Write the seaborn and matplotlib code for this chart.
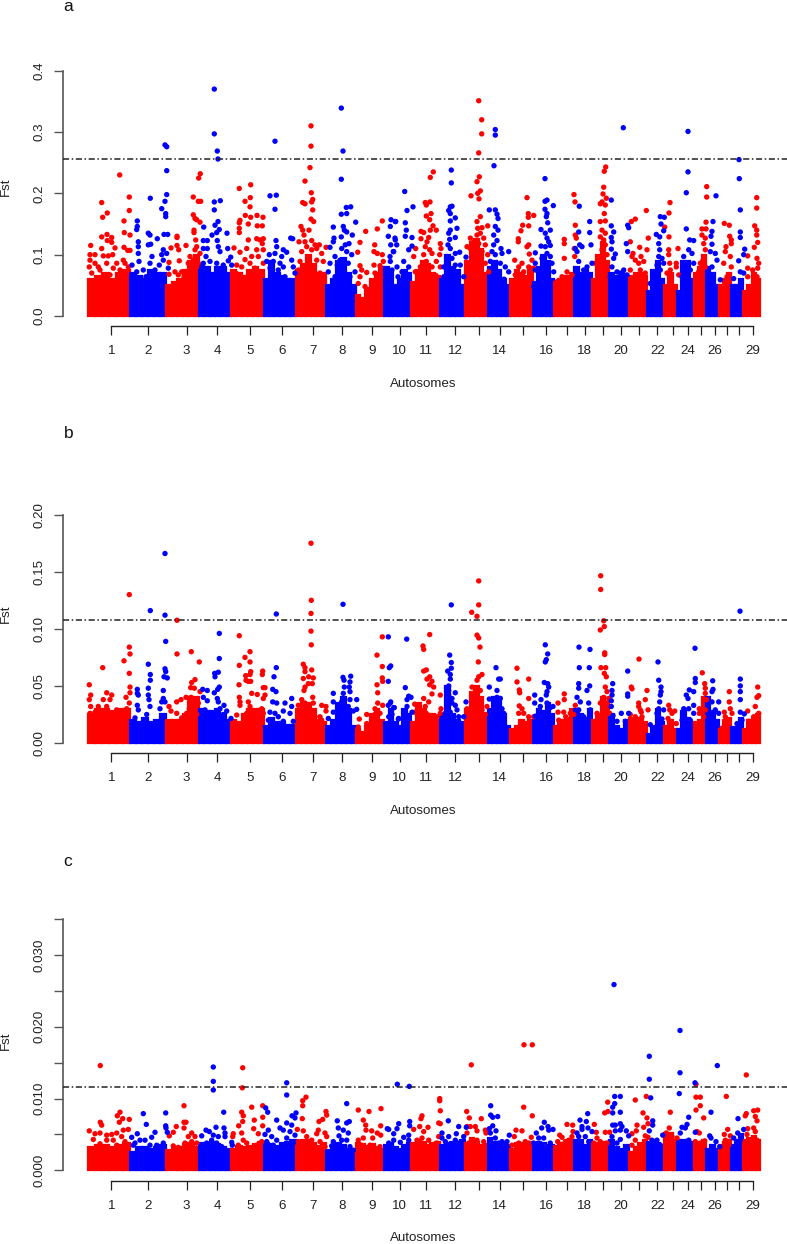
import matplotlib
matplotlib.use("Agg")
import matplotlib.pyplot as plt
import seaborn as sns
import pandas as pd

W, H = 787, 1244
RED, BLUE = "#ff0000", "#0000ff"

# chromosome boundaries along the genome axis (plot units), 1..29
chrom_edges = [88,130,166,199,231,263.5,295.5,325.5,355.5,384,411,440,465,488,510,533,554,574,592,609,
               629,647,664,677,694,706,719,731,743,760]
tick_pos = [111.3,148.3,186.7,217,250,281.7,312.7,342.3,371.7,399.7,426.3,455.3,478.7,499.7,523,546.3,
            566.7,584.7,603,621,639.3,657.3,672.7,687.7,701.3,714.7,727.3,739,752.7]
tick_labels = ["1","2","3","4","5","6","7","8","9","10","11","12","","14","","16","","18","","20","",
               "22","","24","","26","","","29"]

# top of the solid mass of SNPs, read left to right along each chromosome
mass_a = [[.06,.065,.07,.06,.07,.075],[.07,.065,.06,.075,.07,.07],[.05,.055,.06,.075,.09,.1],[.085,.08,.07,.08,.08,.07],
          [.075,.07,.065,.075,.08,.075],[.06,.09,.07,.065,.06,.06],[.075,.085,.1,.085,.07,.07],[.05,.06,.09,.095,.07,.05],
          [.035,.03,.045,.06,.07,.08],[.08,.07,.05,.06,.075,.07],[.055,.075,.09,.085,.07,.065],[.06,.1,.08,.075,.05],
          [.09,.12,.125,.11,.07],[.08,.09,.075,.06,.05],[.06,.075,.07,.065,.08],[.055,.08,.1,.09,.06],[.055,.06,.065,.065,.07],
          [.08,.07,.075,.07],[.06,.1,.12,.09],[.07,.065,.07,.065],[.065,.07,.07,.065],[.04,.075,.09,.06],[.05,.07,.05],
          [.04,.09,.09,.06],[.07,.08,.1],[.08,.07,.05],[.05,.06,.07],[.05,.05,.06],[.04,.05,.07,.06]]
mass_b = [[.025,.03,.03,.028,.03,.03],[.02,.018,.022,.018,.02,.025],[.02,.02,.02,.025,.04,.04],[.03,.028,.028,.03,.025,.02],
          [.02,.018,.025,.03,.03,.03],[.015,.022,.018,.018,.016,.016],[.03,.035,.035,.03,.02,.018],[.015,.02,.035,.04,.03,.015],
          [.012,.01,.015,.025,.03,.02],[.018,.03,.018,.015,.03,.025],[.018,.035,.03,.025,.025,.02],[.025,.05,.025,.02,.018],
          [.03,.045,.05,.04,.025],[.03,.04,.04,.025,.015],[.012,.015,.02,.018,.02],[.02,.03,.028,.035,.025],[.015,.02,.02,.022,.03],
          [.03,.025,.022,.03],[.02,.025,.04,.035],[.025,.015,.012,.02],[.022,.022,.022,.018],[.008,.015,.03,.018],[.015,.02,.012],
          [.012,.028,.022,.018],[.018,.02,.04],[.04,.028,.02],[.012,.02,.022],[.014,.014,.022],[.012,.02,.022,.025]]
mass_c = [[.0033,.0035,.0035,.0033,.0035,.0038],[.0025,.0032,.0033,.003,.0033,.0035],[.0028,.0032,.0033,.0036,.0038,.0033],
          [.0038,.0038,.004,.0036,.0032,.003],[.003,.0034,.0032,.0034,.0036,.004],[.0038,.0036,.0034,.0038,.004,.0042],
          [.0038,.0042,.0042,.0038,.0034,.0038],[.0028,.0035,.0038,.0035,.003,.003],[.0038,.0036,.0034,.0036,.0032,.003],
          [.0035,.0038,.0032,.003,.0035,.0038],[.0038,.0042,.004,.0035,.0038,.004],[.0035,.0038,.004,.0035,.0042],
          [.0038,.0045,.004,.0035,.0036],[.0045,.004,.0038,.0038,.0035],[.003,.0038,.0038,.0038,.004],[.0038,.004,.0038,.0035,.0035],
          [.0034,.0038,.0038,.0038,.0042],[.0042,.0042,.0035,.0042],[.0035,.0038,.004,.004],[.0042,.0032,.003,.0035],
          [.0025,.0032,.0038,.0042],[.004,.0042,.0038,.0035],[.0052,.0052,.0042],[.0042,.0042,.0042,.004],[.004,.0038,.0042],
          [.003,.0035,.003],[.0035,.004,.0042],[.0035,.0042,.005],[.0042,.0045,.0048,.0042]]

threshold_a, threshold_b, threshold_c = .256, .1075, .0116

a_red = [
(90.7,.115),(101.7,.185),(102.7,.161),(107.3,.168),(119.7,.23),(129.3,.194),(129.3,.172),(124,.155),(124.3,.136),(130,.132),(101.7,.129),(107,.133),(111.7,.128),(107.3,.123),(111.7,.12),(124,.112),(115,.111),(101.7,.11),(130,.107),(127.7,.107),(90,.1),(95,.1),(90,.091),(95,.086),(103.3,.098),(108.3,.098),(112.7,.1),(123.3,.091),(98.3,.08),(106.7,.086),(116.7,.086),(125,.086),(89.3,.08),(100,.075),(113.3,.078),(120,.075),(128.3,.08),(91.7,.07),(103.3,.064),(110,.067),(118.3,.064),(126.7,.07),
(177,.13),(177,.128),(171,.111),(177,.115),(186,.115),(178.7,.108),(169,.0875),(169,.068),(179.3,.09),(175,.072),(178.3,.067),(184,.064),(193.3,.194),(198.7,.225),(200.3,.232),(198.3,.187),(200.7,.187),(193.3,.165),(195,.159),(196.7,.157),(200,.153),(194,.14),(194,.136),(195.7,.124),(196.7,.113),(195,.108),(200,.102),(190,.097),(193.3,.091),(188.3,.086),(198.3,.086),(181.7,.072),(191.7,.08),(196.7,.08),
(239.3,.208),(250.7,.214),(245,.187),(250.3,.193),(250,.178),(245.3,.164),(250.7,.161),(240,.156),(239.3,.152),(248.3,.15),(257,.164),(263,.161),(257.3,.147),(262.3,.147),(239.3,.143),(239.3,.136),(234,.111),(248.3,.124),(256.7,.126),(263.3,.126),(260,.124),(262.3,.118),(246.7,.11),(240,.104),(256.7,.108),(263.3,.108),(245,.092),(251.7,.097),(258.3,.097),(236.7,.083),(250,.086),(263.3,.086),(241.7,.08),(255,.078),(236,.07),(248,.065),(260,.07),
(311,.31),(311,.277),(310,.242),(305,.22),(311.3,.201),(312.7,.19),(311.7,.186),(302.7,.185),(305,.183),(312.7,.173),(311,.158),(313.7,.154),(301,.146),(302.7,.14),(309,.14),(304,.132),(299,.121),(311.7,.123),(305,.121),(319.3,.116),(315,.116),(326,.112),(306.7,.113),(321.7,.102),(301.7,.105),(311.7,.108),(316.7,.11),(300,.089),(308.3,.094),(316.7,.091),(323.3,.089),(305,.08),(313.3,.08),(298.3,.075),(320,.07),(306,.07),
(382.3,.155),(365.7,.138),(377.3,.142),(360,.12),(374.7,.116),(374,.105),(377.3,.102),(357.7,.104),(382.3,.1),(383.3,.089),(360,.082),(374,.083),(380,.082),(361.7,.075),(366.7,.071),(375,.07),(358.3,.053),(365,.048),(371.7,.053),(380,.064),(360,.064),(376.7,.059),
(433.3,.235),(430.3,.226),(430,.186),(425.3,.185),(426.3,.181),(431,.167),(426.3,.163),(429.7,.157),(433,.147),(436.3,.14),(421,.138),(423.7,.136),(430.3,.14),(428.7,.128),(421,.126),(427,.121),(440.3,.118),(441,.11),(415.7,.11),(425.3,.113),(429.7,.108),(423.7,.1),(432,.102),(439.7,.1),(413.7,.097),(426.3,.089),(436.3,.089),(420.3,.08),(432,.08),(440.3,.08),(415.3,.072),(427,.07),(436,.066),
(478.7,.351),(481.7,.32),(481.7,.297),(478.7,.266),(479.3,.227),(477,.219),(480.3,.204),(477.7,.2),(471,.196),(479,.191),(480.3,.162),(477,.154),(482,.144),(477.7,.143),(487.7,.147),(480.3,.135),(477,.132),(470.3,.127),(483.7,.127),(467,.113),(473.7,.121),(478.7,.118),(485.3,.116),(470.3,.11),(475.3,.108),(482,.105),(487.7,.1),(467,.086),(473.7,.097),(480.3,.094),(470.3,.08),(485.3,.086),(488.7,.072),(475,.075),(468,.066),
(527,.193),(528.3,.167),(533.7,.164),(528.3,.161),(522.7,.148),(528.7,.147),(521,.139),(518.3,.126),(518.3,.121),(528.7,.116),(527,.113),(514.7,.091),(529.3,.101),(532,.091),(522,.086),(518.7,.08),(528.7,.08),(533.7,.078),(515.3,.067),(523.7,.072),(530,.065),
(574,.198),(575,.186),(564.3,.125),(564.3,.118),(564.3,.094),(575.3,.148),(575.3,.132),(576.3,.127),(574.3,.11),(574.7,.097),(567,.072),(562,.064),(557,.056),(572,.067),
(605.7,.243),(604.3,.236),(603.7,.21),(603,.199),(606.3,.192),(602,.186),(605.3,.181),(600.3,.183),(604.3,.167),(605.3,.155),(600.3,.154),(602,.14),(605.3,.135),(600.3,.129),(603.7,.124),(605.3,.116),(602,.108),(607,.1),(595.3,.086),(600.3,.089),(598.7,.07),(605.3,.086),(597,.053),(603,.075),
(646.3,.172),(635.3,.158),(631.3,.154),(630.3,.121),(633,.102),(639.7,.112),(632,.097),(647,.108),(641,.097),(635.3,.091),(638.7,.086),(643.7,.089),(640.3,.075),(630.3,.075),(645.3,.07),(648.3,.127),
(670,.185),(669,.168),(664.7,.145),(669,.129),(678,.11),(668.7,.108),(668.7,.1),(676.3,.086),(669.7,.086),(676.3,.08),(667,.07),(678.7,.067),(670.3,.075),
(706.7,.211),(706.7,.194),(706,.153),(702,.142),(706,.142),(702,.132),(705.3,.127),(703.7,.118),(705.3,.108),(700.3,.086),(703,.091),(698.7,.072),(705.3,.08),
(724.3,.151),(729.3,.148),(729.7,.13),(731.3,.124),(731.3,.118),(726,.113),(725.3,.105),(730.3,.097),(723.7,.086),(731.3,.08),(727,.064),
(756.7,.193),(756.7,.176),(754.7,.147),(756.7,.14),(756.7,.132),(757.7,.12),(754.3,.112),(757,.094),(758.7,.086),(747.7,.098),(747.7,.078),(752.7,.075),(757.7,.078),(747.7,.064),(757,.064),(753.7,.053),
]
a_blue = [
(137.3,.155),(137.3,.146),(136.7,.141),(138.3,.121),(138.3,.113),(138.3,.102),(139,.089),(148.3,.135),(150,.132),(150.3,.192),(148.3,.116),(150.7,.117),(152,.097),(157.3,.126),(161.7,.175),(165,.187),(166.7,.198),(166.7,.237),(165,.279),(166.7,.276),(165.7,.167),(165.7,.162),(164,.133),(167.7,.133),(163.3,.108),(166.7,.102),(161.7,.1),(159.3,.083),(168.3,.078),(132,.083),(136.7,.072),(143.3,.075),(150,.086),(155,.075),(163.3,.091),(146,.064),(160,.064),
(214.3,.37),(214.3,.297),(217.3,.269),(218,.256),(214.3,.186),(220.3,.188),(214.3,.173),(218,.154),(215,.148),(203.7,.145),(212,.132),(219.3,.141),(216.7,.136),(227,.135),(203.3,.123),(207.3,.123),(203.3,.11),(207.3,.11),(217.3,.123),(218.3,.113),(227.7,.11),(220,.105),(230.7,.096),(206,.097),(210,.089),(228.3,.09),(216.7,.086),(223.3,.083),(203.3,.086),(231.7,.083),
(275,.285),(270,.196),(276.3,.197),(275,.174),(290.7,.127),(292.7,.126),(276,.123),(276.7,.113),(283.3,.108),(269.3,.1),(286.7,.104),(281.7,.097),(266.7,.089),(275,.102),(273.3,.089),(291.7,.091),(283.3,.08),(293.3,.08),(270,.078),(280,.086),(278.3,.075),(295,.07),(285,.064),(272,.064),
(341.3,.339),(343,.269),(341.3,.223),(346.3,.177),(350.7,.178),(341.3,.166),(346.7,.167),(355.7,.153),(333.3,.145),(343.3,.146),(344.3,.14),(346.7,.137),(352.3,.132),(341.3,.129),(334,.127),(333.3,.121),(349,.118),(330,.112),(345.3,.116),(341.7,.11),(346.7,.105),(335,.097),(351.7,.1),(330,.086),(340,.091),(348.3,.086),(328.3,.072),(337.3,.083),(355,.072),(343.3,.075),(350,.064),(335,.064),
(391,.157),(390.3,.146),(395.7,.154),(388.3,.13),(390.7,.116),(395,.127),(396.7,.116),(393.3,.105),(390,.097),(404.7,.203),(407,.172),(413,.178),(405.3,.152),(406.3,.14),(405.3,.13),(412,.128),(412,.114),(408.7,.108),(395.3,.154),(395.3,.124),(393.7,.105),(390.3,.089),(403.7,.089),(397,.08),(408.7,.08),(392,.075),(402,.072),(398,.064),(406,.06),
(451.3,.238),(451.3,.217),(450.3,.178),(452,.179),(448.7,.172),(450.3,.167),(455.3,.16),(450.3,.155),(457,.143),(450.3,.14),(448.7,.135),(455.3,.128),(449.7,.125),(448,.116),(450.3,.11),(455.3,.102),(459.7,.104),(447,.097),(466,.096),(452,.094),(460.3,.083),(443.7,.08),(455.3,.083),(450.3,.075),(463.7,.064),(443.7,.064),(455,.06),
(495.3,.304),(495.3,.295),(494,.245),(489.3,.173),(495.3,.173),(497,.166),(498,.159),(495.3,.146),(498,.14),(493.7,.132),(497,.123),(493.7,.116),(492,.105),(501,.11),(508.7,.105),(502,.102),(495.3,.1),(490.3,.089),(500.3,.086),(505.3,.08),(493.7,.075),(508.7,.072),(498.7,.067),(504,.06),
(545,.224),(547,.189),(545,.187),(553.3,.18),(545,.174),(547,.167),(546.3,.162),(547.7,.152),(541,.141),(550.3,.14),(545.3,.135),(547,.127),(548.7,.121),(541,.114),(550.3,.115),(545.3,.113),(547,.102),(535.3,.103),(542,.094),(550.3,.097),(535.3,.086),(552,.086),(543.7,.086),(535.3,.075),(553.7,.072),(533.7,.048),(548,.07),
(579.3,.179),(589.7,.154),(578.7,.137),(589.7,.136),(575.3,.11),(579.7,.116),(582,.113),(591,.116),(577,.105),(578.7,.089),(587,.08),(592,.086),(583.7,.075),(577,.072),(590.3,.067),
(623.3,.307),(611.3,.189),(611.3,.147),(613.7,.137),(611.3,.128),(612,.121),(611.3,.109),(615.3,.101),(613.7,.094),(612,.08),(623.7,.075),(617,.072),(627,.067),(610.3,.064),(620.3,.07),(627.7,.148),(628.7,.144),(626.3,.118),(627.7,.105),
(660.3,.162),(664.3,.161),(661,.15),(663.7,.139),(656.3,.133),(659.7,.129),(658.7,.118),(659.7,.108),(658.7,.097),(662,.094),(663.7,.086),(657,.083),(653.7,.064),(660.3,.075),(650.3,.053),
(688,.301),(688,.235),(686.3,.201),(686.3,.142),(689.7,.124),(693.7,.123),(688.7,.108),(683.7,.097),(692,.102),(685.3,.08),(693.7,.086),(682,.064),(690.3,.075),
(716,.196),(713,.154),(712,.138),(711,.13),(712,.117),(710.3,.105),(715.3,.102),(717,.091),(720.3,.059),(712,.08),
(739,.255),(739.3,.224),(740.3,.173),(740.3,.137),(740.3,.128),(744.7,.109),(743.7,.1),(738.7,.09),(740.3,.072),(733.7,.061),(743.7,.07),
]
b_red = [
(89.3,.051),(89.3,.038),(90.7,.042),(102.7,.066),(129.3,.13),(129.3,.084),(130,.078),(124,.072),(129.3,.061),(130,.049),(130,.044),(126,.04),(106.7,.044),(111.7,.042),(103.3,.038),(110,.038),(98.3,.032),(90.7,.032),(95,.027),(106.7,.032),(116.7,.029),(126.7,.03),(121.7,.022),(129.3,.035),(101.7,.026),(90,.026),(111.7,.026),(113.3,.023),
(177,.1075),(177,.078),(191.3,.08),(199.3,.071),(195,.0555),(191.7,.053),(190.7,.0485),(194.3,.048),(200,.045),(191,.04),(186,.04),(181,.038),(176.7,.036),(169,.032),(171,.028),(196.7,.038),(189.3,.03),(195,.033),(198.3,.035),(176.7,.026),(181.7,.022),(186.7,.026),(196.7,.025),(175,.017),
(239.3,.094),(250,.08),(245,.075),(239.3,.068),(250,.071),(250.7,.0625),(245.7,.059),(250,.06),(248.3,.054),(250.7,.054),(246,.055),(239,.051),(262.7,.063),(262.3,.06),(263.3,.0485),(265,.0485),(251.7,.0435),(257.3,.0425),(265,.042),(239.3,.04),(240,.036),(248.3,.036),(263.3,.039),(240,.033),(250,.032),(261.7,.03),(236.7,.0245),(256.7,.026),(246.7,.026),(263.3,.026),(245,.021),
(311,.175),(311.3,.125),(311,.1135),(311,.098),(311.3,.086),(303.3,.069),(305,.066),(311.7,.064),(305,.0625),(303.3,.0565),(308.7,.058),(313.3,.057),(305,.049),(308.3,.052),(312.3,.052),(304,.046),(312.7,.04),(301.7,.038),(321.7,.033),(326,.032),(326,.028),(313.3,.035),(298.3,.033),(305,.035),(308.3,.029),(321.7,.02),(315,.023),(320,.023),
(382.3,.093),(377,.077),(382.3,.067),(382.3,.057),(382.7,.054),(377,.051),(377.7,.044),(377.7,.035),(382.7,.033),(375,.03),(366.7,.025),(359.3,.021),(375,.025),(366.7,.017),(358.3,.014),(380,.026),
(429.7,.095),(423,.085),(423.7,.082),(426.3,.064),(423.7,.063),(429.7,.058),(427,.056),(432,.054),(429.7,.051),(433.7,.049),(414.7,.034),(414.7,.027),(423.7,.039),(428.7,.036),(432,.043),(440.3,.042),(441,.03),(425.3,.032),(430.3,.023),(437,.023),(426.3,.026),(440.3,.026),
(478.7,.142),(478.7,.121),(471.7,.1145),(477,.111),(477,.0945),(478.7,.092),(480,.084),(478.3,.071),(482,.06),(478.7,.058),(477,.055),(472,.049),(480.3,.046),(475.3,.045),(477,.04),(472,.04),(467,.03),(487,.032),(480.3,.036),(473.7,.035),(482,.029),(468.7,.026),(475.3,.026),(485.3,.025),
(517,.0655),(517,.0535),(528.7,.056),(519.3,.0465),(519.7,.044),(528.7,.039),(519.3,.0325),(533.7,.023),(518.7,.026),(523.7,.026),(528.7,.023),(522,.03),
(564.3,.043),(564.3,.038),(558,.035),(558,.027),(563.7,.027),(573.7,.025),(575.3,.033),(565.7,.023),(570.3,.026),(558.7,.02),(563.7,.017),
(600.7,.1465),(600.7,.1345),(603.7,.107),(604.3,.102),(600.3,.099),(604.7,.079),(604.7,.0775),(601,.066),(605.7,.066),(604.3,.061),(606.3,.058),(605.3,.049),(607,.045),(603.7,.04),(600.3,.035),(608.7,.039),(603,.03),(597,.026),(595.3,.019),(607,.035),(609.7,.026),
(639,.0735),(631.3,.049),(632,.0475),(638.7,.035),(638.7,.032),(641.3,.027),(642,.023),(647,.046),(645.3,.038),(648,.029),(635.3,.023),(640.3,.029),(630.3,.025),
(668.7,.033),(674.7,.028),(669.7,.029),(672,.026),(668,.0215),(676.3,.017),(670.3,.014),
(702.3,.0615),(704.7,.052),(705.3,.048),(705.3,.0435),(706.3,.038),(705.3,.029),(699.3,.03),(699.3,.026),(703.7,.023),
(729.3,.045),(729.3,.036),(724.3,.027),(730.3,.03),(725.3,.023),(732,.026),(722,.013),
(757.7,.049),(758.7,.0415),(757,.04),(755.3,.032),(747.7,.028),(753.7,.023),(758.7,.026),(748.7,.019),(757,.017),
]
b_blue = [
(165,.166),(150.3,.116),(165,.112),(165.7,.089),(148.3,.069),(150.3,.06),(150.3,.055),(165,.065),(165.7,.0625),(164,.058),(167.3,.057),(148.3,.048),(137.3,.047),(137.3,.0435),(138.3,.042),(163.3,.046),(148.3,.042),(149,.038),(163.3,.039),(161.7,.036),(150,.032),(165,.036),(137.3,.033),(138.3,.029),(160,.03),(135,.022),(146.7,.025),(140,.017),(163.3,.023),
(219.3,.096),(219.3,.074),(214.7,.061),(218.3,.062),(215,.058),(219.3,.049),(217.7,.047),(202.7,.047),(207.3,.046),(214.3,.044),(203.3,.04),(217.3,.039),(207.3,.037),(218.3,.036),(224,.033),(220,.03),(205,.029),(226.7,.028),(231,.0215),(208.3,.025),(213.3,.026),(223.3,.025),
(276.3,.113),(276.3,.066),(274,.058),(272.7,.047),(276,.045),(291.7,.039),(285,.035),(272.7,.036),(276.7,.035),(291.7,.032),(270,.027),(283.3,.028),(290,.026),(275,.026),(278.3,.023),(293.3,.019),(283.3,.019),(268.3,.02),
(343,.1215),(343,.0575),(350.7,.0585),(344,.055),(350,.0535),(333.3,.0435),(333.3,.036),(344.3,.049),(349.3,.049),(343.3,.0435),(350,.045),(356.7,.038),(350,.038),(341.7,.036),(356.7,.0295),(333.3,.027),(348.3,.032),(340,.032),(353.3,.028),(328.3,.0215),
(388.3,.093),(390.7,.0675),(389.3,.066),(388.3,.054),(390.7,.036),(394.3,.031),(388.3,.033),(398.3,.021),(406.7,.091),(405.3,.0485),(408.7,.041),(407,.038),(411,.04),(407,.032),(412,.027),(405.3,.027),(398.7,.0215),(393.7,.031),(390.3,.035),(392,.025),(407,.023),(388.7,.023),
(451.3,.121),(449.7,.077),(451.3,.0705),(451.3,.0655),(447.7,.063),(450.3,.06),(450.3,.056),(448.7,.05),(448.7,.046),(455.3,.044),(448.7,.042),(452,.039),(455.3,.033),(466,.036),(452,.035),(445.3,.026),(450.3,.027),(457,.029),(463.7,.023),(458.7,.023),
(496,.066),(498.7,.056),(500.3,.056),(489.3,.049),(497,.046),(489.3,.0385),(497,.04),(500.3,.039),(502,.03),(495.3,.032),(503.7,.026),(490.3,.023),(498.7,.029),
(545.3,.086),(547.7,.078),(546.3,.073),(545.3,.071),(544.3,.053),(547.7,.052),(548.7,.049),(547,.045),(546.3,.042),(534.7,.042),(534.7,.035),(541,.038),(540.3,.032),(547,.035),(550.3,.031),(553,.032),(535.3,.0235),(543.7,.026),(547,.026),
(579,.084),(590,.082),(579.3,.066),(589.3,.066),(578.7,.052),(578.7,.048),(589.7,.05),(587,.046),(577,.04),(580.3,.036),(588.7,.035),(578.7,.029),(590.3,.029),(583.7,.023),(587,.02),
(612.7,.052),(612,.046),(612,.042),(611.3,.037),(611.3,.032),(613,.024),(621.3,.026),(627.7,.063),(627.7,.043),(627.7,.041),(628.7,.026),(617,.019),(625.3,.019),
(658,.071),(658.7,.055),(661,.049),(661,.045),(660.3,.042),(659.7,.036),(658.7,.03),(663.7,.029),(657,.026),(650.3,.016),(662,.021),
(695,.083),(695.3,.0565),(695.3,.053),(689.3,.0465),(686.3,.042),(688,.039),(693.7,.045),(683.7,.03),(688.7,.03),(693.7,.033),(693.7,.026),(682,.02),(690.3,.02),
(712.7,.0545),(713,.047),(712,.045),(712,.036),(718.7,.036),(715.3,.029),(718.7,.026),(712,.023),
(740,.1155),(740.3,.056),(740.3,.05),(740.3,.045),(740.3,.038),(740.3,.027),(744.3,.0255),(742,.02),(737,.017),
]
c_red = [
(100.3,.0146),(120,.0081),(117.3,.0076),(122.7,.0072),(129.3,.0071),(119.3,.0067),(100.3,.0067),(101.7,.0063),(89.3,.0055),(123.3,.0056),(128.3,.0057),(95,.0051),(100,.0052),(106.7,.0049),(111.7,.005),(116.7,.0052),(121.7,.0047),(93.3,.0043),(106.7,.0042),(113.3,.0042),(125,.004),(100,.0037),(116.7,.0035),(126,.0035),
(184,.009),(184,.0067),(186,.0067),(184,.0059),(176.3,.0061),(173.3,.0053),(169.3,.0048),(191.7,.0052),(188.3,.0047),(195,.0047),(185,.0038),(191.7,.004),(173.3,.0034),(196.7,.0038),(178.3,.0032),
(242.7,.0143),(242.3,.0115),(241.7,.0081),(243.3,.0076),(251.7,.0088),(262.7,.009),(254.3,.007),(262.7,.0074),(262.7,.0062),(238.7,.0062),(242.7,.0068),(253.7,.0058),(241.7,.0052),(258.3,.0051),(233.3,.0051),(232.7,.0047),(243.3,.0042),(246.7,.0038),(238.3,.0035),(256.7,.0035),(261.7,.004),
(306,.0102),(302.7,.0097),(302.7,.009),(302.3,.0072),(326,.0082),(326.7,.0077),(322.7,.0071),(319,.0068),(297.3,.0057),(303.3,.0055),(318.3,.0056),(325,.0052),(316.7,.0051),(326.7,.0047),(306.7,.0047),(298.3,.004),(311.7,.0042),(320,.004),(303.3,.0035),(325,.0033),
(358.3,.0084),(369,.0082),(381,.0086),(363.3,.007),(365.7,.0063),(380.7,.0062),(371.7,.0055),(366,.0056),(377.3,.0052),(380.7,.0049),(358.3,.0042),(363.3,.0045),(372.7,.0045),(361.7,.0035),(370,.0035),(380,.0033),
(439.7,.01),(439.7,.0097),(440.3,.0083),(422,.0076),(421,.0072),(419.7,.0061),(428,.006),(413.7,.0057),(438.7,.0066),(440.3,.0065),(423.7,.0054),(438.7,.0047),(417,.0042),(428.7,.0042),(422,.0045),(437,.0038),
(471.3,.0147),(466.7,.0082),(469.3,.0073),(481.3,.0072),(467,.0061),(470.3,.0061),(475.3,.0061),(485.3,.0056),(486,.0052),(477,.0055),(467,.0052),(477,.0042),(483.7,.004),(468.7,.0038),(472,.0035),
(524,.0175),(532.3,.0175),(523.7,.0088),(532.3,.0076),(516,.0056),(522,.0055),(514.3,.0047),(531.3,.0046),(518.7,.0038),(525.3,.004),(512,.0035),(528.7,.0038),
(567,.0064),(572.7,.0063),(559.7,.0049),(562,.0046),(565.3,.004),(568.7,.0042),(573,.0054),(557.7,.004),(572,.0047),
(607.7,.0095),(604.7,.008),(608,.0082),(594.3,.0064),(596.3,.0053),(605.3,.0053),(609.7,.0053),(593.7,.0038),(600.3,.004),(607,.0038),(597,.0045),
(635.3,.0098),(646.3,.0103),(643,.008),(647,.0073),(648,.0065),(643.7,.006),(637,.0063),(636.3,.0055),(632,.0051),(645.3,.0048),(648,.0046),(635.3,.0042),(640.3,.0035),(632,.0035),
(670.3,.0081),(669.3,.0059),(666.3,.0052),(672,.0047),(677,.0045),(668.7,.0042),
(696,.012),(696,.0102),(700.3,.0102),(700.3,.009),(696,.0084),(703.7,.0073),(697,.0054),(699.3,.0052),(695.3,.004),(704.7,.0041),(700.3,.0038),
(726.3,.0103),(727.7,.0057),(724.3,.005),(730.3,.0048),(725.3,.0042),(722,.0031),(728.7,.0035),
(746.3,.0133),(746.3,.0079),(745.3,.0076),(753.7,.0083),(757.7,.0084),(755.3,.0075),(757,.0069),(747.7,.0058),(753.7,.0059),(755.3,.0054),(747,.005),(757,.0042),(750.3,.0038),(745.3,.004),
]
c_blue = [
(143.3,.0079),(165.7,.008),(146.3,.0064),(165.7,.0062),(166,.0059),(167.3,.0053),(155,.0053),(137.3,.0051),(131.7,.0046),(151.7,.0046),(135,.0038),(145,.0042),(133.3,.0035),(150,.0035),(163.3,.0038),(156.7,.0035),(140,.0042),
(213.3,.0144),(213.3,.0124),(213.3,.0112),(223.7,.0081),(216,.006),(224,.0059),(206,.0056),(209.3,.0054),(201.7,.0048),(213.3,.0049),(218.3,.0047),(225,.0052),(225,.0047),(231.7,.0039),(232.3,.0035),(206.7,.0038),(216.7,.0038),(221.7,.0033),(211.7,.0042),
(286.7,.0122),(286.7,.0105),(265.7,.0087),(267.7,.0081),(276.7,.007),(286.7,.0066),(292,.0076),(296,.008),(295,.0073),(291.7,.0063),(265,.005),(268.3,.0056),(280,.0059),(271.7,.0047),(283.3,.0056),(290,.0054),(295,.0049),(266.7,.004),(276.7,.0042),(286.7,.0045),(293.3,.0038),(273.3,.0035),(281.7,.0035),
(346.7,.0093),(337.3,.0069),(349.3,.0068),(346.7,.0066),(338.3,.0059),(343.3,.0056),(348.3,.0052),(339,.0048),(333.3,.004),(346.7,.0042),(337.3,.0035),(350,.0033),(353.3,.0028),(341.7,.0042),(331.7,.0034),
(397.3,.012),(409.3,.0117),(387.3,.0058),(398.7,.0065),(409.7,.0068),(409.7,.0062),(397,.0058),(388.7,.0057),(393.7,.0051),(408.7,.0049),(403.7,.0046),(400.3,.0039),(408.7,.0042),(388.7,.0038),(393.7,.0042),(407,.0033),
(448.3,.0069),(458.7,.0061),(466.3,.006),(456.3,.0051),(442,.0052),(448.7,.0047),(442,.0045),(455.3,.0042),(463.7,.0047),(445.3,.004),(458.7,.0038),(450.3,.0035),
(490.7,.009),(490.7,.0077),(492.7,.0074),(497.7,.0075),(492.7,.0062),(489.3,.0058),(496,.0055),(509.3,.0049),(490.3,.0052),(495.3,.0045),(502,.004),(507,.004),(490.3,.004),(498.7,.0038),
(544.3,.0067),(541.7,.0059),(548,.0061),(553,.0057),(536.3,.0052),(548.7,.0056),(538.7,.0045),(543.7,.0045),(550.3,.0038),(533.7,.0038),
(580,.007),(587.7,.0079),(586.3,.0068),(582,.0061),(582,.0057),(588,.0059),(577,.0052),(578.7,.0047),(585.3,.0047),(592,.0054),(588.7,.004),(580.3,.0038),
(614,.0259),(614.7,.0103),(620.3,.0103),(614.7,.0093),(612.7,.0088),(612.7,.008),(620.3,.0081),(612.7,.0063),(615.3,.0063),(620.3,.0065),(622,.0061),(615.3,.0055),(620.3,.0056),(626.3,.0055),(628.7,.0048),(620.3,.0043),(612,.0047),(617,.0038),
(649.3,.0159),(649.3,.0127),(650.7,.0101),(652.7,.0069),(652.7,.0063),(649.3,.0055),(662.7,.0049),(652,.0042),(657,.0042),(660.3,.0035),(650.3,.0035),
(680,.0195),(680,.0136),(679.3,.0107),(688.7,.0074),(687,.0064),(682,.006),(680.3,.0052),(685.3,.0059),(695,.0122),(695.3,.0053),(688.7,.0042),(682,.004),
(717.3,.0146),(711,.0081),(709.7,.0048),(711,.0045),(716,.004),(719.7,.0033),(712,.0033),
(738,.0072),(733.7,.0045),(737.7,.0052),(743.7,.0057),(740.3,.0042),(737,.0035),
]

LABEL = 9.6
plt.rcParams["font.family"] = ["Liberation Sans", "DejaVu Sans"]
sns.set_style("white", {"font.family": ["Liberation Sans", "DejaVu Sans"]})
fig = plt.figure(figsize=(W / 100, H / 100), dpi=100)
X0, X1 = 63, 787


def px_text(x, y, s, **kw):
    fig.text(x / W, 1 - y / H, s, **kw)


def panel(letter, letter_y, y0, ytop, ymax, yticks, ylabels, mass, red, blue, thr, axis_off, fst_y, auto_y):
    ax = fig.add_axes([X0 / W, 1 - y0 / H, (X1 - X0) / W, (y0 - ytop) / H])
    ax.set_xlim(X0, X1)
    ax.set_ylim(0, ymax)
    ax.patch.set_alpha(0)
    for i, heights in enumerate(mass):
        c = RED if i % 2 == 0 else BLUE
        w = (chrom_edges[i + 1] - chrom_edges[i]) / len(heights)
        for j, h in enumerate(heights):
            ax.bar(chrom_edges[i] + j * w, h, width=w, align="edge", color=c, edgecolor=c,
                   linewidth=1.6, clip_on=False, zorder=1)
    df = pd.DataFrame(red + blue, columns=["pos", "fst"])
    df["col"] = ["r"] * len(red) + ["b"] * len(blue)
    sns.scatterplot(data=df, x="pos", y="fst", hue="col", palette={"r": RED, "b": BLUE}, s=15,
                    linewidth=0, legend=False, clip_on=False, ax=ax, zorder=2)
    ax.axhline(thr, color="#222222", lw=1.1, ls=(0, (4, 1.7, 1, 1.7)), zorder=3)
    ax.set_xlabel("")
    ax.set_ylabel("")
    for s in ("top", "right"):
        ax.spines[s].set_visible(False)
    ax.spines["left"].set_color("#555555")
    ax.spines["left"].set_linewidth(1.2)
    ax.spines["left"].set_bounds(0, ymax)
    ax.spines["bottom"].set_position(("outward", axis_off * 0.72))
    ax.spines["bottom"].set_color("#222222")
    ax.spines["bottom"].set_linewidth(1.0)
    ax.spines["bottom"].set_bounds(tick_pos[0], tick_pos[-1])
    ax.set_xticks(tick_pos)
    ax.set_xticklabels(tick_labels, fontsize=LABEL, color="#222222")
    ax.tick_params(axis="x", bottom=True, length=6.5, width=0.9, color="#222222", pad=7.5)
    ax.set_yticks(yticks)
    ax.set_yticklabels(ylabels, fontsize=LABEL, rotation=90, va="center", color="#222222")
    ax.tick_params(axis="y", left=True, length=6.5, width=1.0, color="#555555", pad=6)
    px_text(X0 + 0.5, letter_y, letter, fontsize=12.5, color="#111111", ha="left", va="baseline")
    px_text(6, fst_y, "Fst", fontsize=LABEL, rotation=90, ha="center", va="center", color="#222222")
    px_text(423.7, auto_y, "Autosomes", fontsize=LABEL, ha="center", va="center", color="#222222")


panel("a", 11, 316, 70.7, 0.4, [0, .1, .2, .3, .4], ["0.0", "0.1", "0.2", "0.3", "0.4"],
      mass_a, a_red, a_blue, threshold_a, 10, 187, 384)
panel("b", 438, 743, 514.7, 0.2, [0, .05, .1, .15, .2], ["0.00", "0.05", "0.10", "0.15", "0.20"],
      mass_b, b_red, b_blue, threshold_b, 10, 614, 810.7)
panel("c", 866, 1170.3, 919.3, 0.035, [0, .005, .01, .015, .02, .025, .03, .035],
      ["0.000", "", "0.010", "", "0.020", "", "0.030", ""],
      mass_c, c_red, c_blue, threshold_c, 10.4, 1041, 1238)

fig.savefig("out.png", dpi=100)
